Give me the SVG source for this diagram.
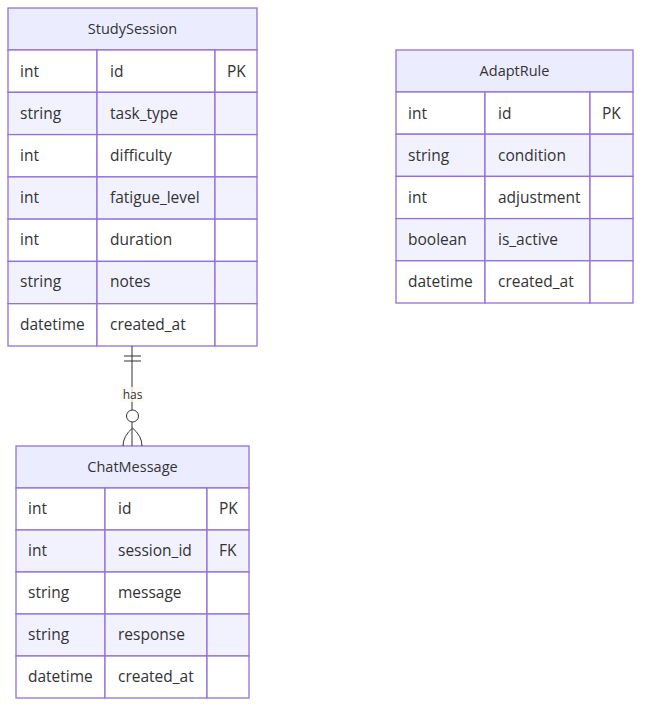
<svg xmlns="http://www.w3.org/2000/svg" width="649" height="716" viewBox="0 0 649 716">
<style>
text{font-family:"Open Sans","Liberation Sans",sans-serif;font-size:15.5px;fill:#333;}
.hd{fill:#ECECFF;stroke:#9370DB;stroke-width:1.3;}
.o{fill:#ffffff;stroke:#9370DB;stroke-width:1.3;}
.e{fill:#f2f2ff;stroke:#9370DB;stroke-width:1.3;}
.c{text-anchor:middle;font-size:14.5px;}
.rel{fill:none;stroke:#333;stroke-width:1;}
</style>
<rect width="649" height="716" fill="#fff"/>
<g id="StudySession">
<rect class="hd" x="8" y="8" width="249" height="42"/>
<text class="c" x="132.5" y="34">StudySession</text>
<rect class="o" x="8" y="50" width="89" height="42.3"/><rect class="o" x="97" y="50" width="118" height="42.3"/><rect class="o" x="215" y="50" width="42" height="42.3"/>
<rect class="e" x="8" y="92.3" width="89" height="42.3"/><rect class="e" x="97" y="92.3" width="118" height="42.3"/><rect class="e" x="215" y="92.3" width="42" height="42.3"/>
<rect class="o" x="8" y="134.6" width="89" height="42.3"/><rect class="o" x="97" y="134.6" width="118" height="42.3"/><rect class="o" x="215" y="134.6" width="42" height="42.3"/>
<rect class="e" x="8" y="176.9" width="89" height="42.3"/><rect class="e" x="97" y="176.9" width="118" height="42.3"/><rect class="e" x="215" y="176.9" width="42" height="42.3"/>
<rect class="o" x="8" y="219.1" width="89" height="42.3"/><rect class="o" x="97" y="219.1" width="118" height="42.3"/><rect class="o" x="215" y="219.1" width="42" height="42.3"/>
<rect class="e" x="8" y="261.4" width="89" height="42.3"/><rect class="e" x="97" y="261.4" width="118" height="42.3"/><rect class="e" x="215" y="261.4" width="42" height="42.3"/>
<rect class="o" x="8" y="303.7" width="89" height="42.3"/><rect class="o" x="97" y="303.7" width="118" height="42.3"/><rect class="o" x="215" y="303.7" width="42" height="42.3"/>
<text x="20" y="77">int</text><text x="110" y="77">id</text><text x="227" y="77">PK</text>
<text x="20" y="119">string</text><text x="110" y="119">task_type</text>
<text x="20" y="161">int</text><text x="110" y="161">difficulty</text>
<text x="20" y="203">int</text><text x="110" y="203">fatigue_level</text>
<text x="20" y="245">int</text><text x="110" y="245">duration</text>
<text x="20" y="287">string</text><text x="110" y="287">notes</text>
<text x="20" y="330">datetime</text><text x="110" y="330">created_at</text>
</g>
<g id="AdaptRule">
<rect class="hd" x="396" y="50" width="237" height="42"/>
<text class="c" x="514.5" y="76">AdaptRule</text>
<rect class="o" x="396" y="92" width="89" height="42.2"/><rect class="o" x="485" y="92" width="105" height="42.2"/><rect class="o" x="590" y="92" width="43" height="42.2"/>
<rect class="e" x="396" y="134.2" width="89" height="42.2"/><rect class="e" x="485" y="134.2" width="105" height="42.2"/><rect class="e" x="590" y="134.2" width="43" height="42.2"/>
<rect class="o" x="396" y="176.4" width="89" height="42.2"/><rect class="o" x="485" y="176.4" width="105" height="42.2"/><rect class="o" x="590" y="176.4" width="43" height="42.2"/>
<rect class="e" x="396" y="218.6" width="89" height="42.2"/><rect class="e" x="485" y="218.6" width="105" height="42.2"/><rect class="e" x="590" y="218.6" width="43" height="42.2"/>
<rect class="o" x="396" y="260.8" width="89" height="42.2"/><rect class="o" x="485" y="260.8" width="105" height="42.2"/><rect class="o" x="590" y="260.8" width="43" height="42.2"/>
<text x="408" y="119">int</text><text x="498" y="119">id</text><text x="602" y="119">PK</text>
<text x="408" y="161">string</text><text x="498" y="161">condition</text>
<text x="408" y="203">int</text><text x="498" y="203">adjustment</text>
<text x="408" y="245">boolean</text><text x="498" y="245">is_active</text>
<text x="408" y="287">datetime</text><text x="498" y="287">created_at</text>
</g>
<g id="ChatMessage">
<rect class="hd" x="16" y="446" width="233" height="42"/>
<text class="c" x="132.5" y="472">ChatMessage</text>
<rect class="o" x="16" y="488" width="89" height="42"/><rect class="o" x="105" y="488" width="102" height="42"/><rect class="o" x="207" y="488" width="42" height="42"/>
<rect class="e" x="16" y="530" width="89" height="42"/><rect class="e" x="105" y="530" width="102" height="42"/><rect class="e" x="207" y="530" width="42" height="42"/>
<rect class="o" x="16" y="572" width="89" height="42"/><rect class="o" x="105" y="572" width="102" height="42"/><rect class="o" x="207" y="572" width="42" height="42"/>
<rect class="e" x="16" y="614" width="89" height="42"/><rect class="e" x="105" y="614" width="102" height="42"/><rect class="e" x="207" y="614" width="42" height="42"/>
<rect class="o" x="16" y="656" width="89" height="42"/><rect class="o" x="105" y="656" width="102" height="42"/><rect class="o" x="207" y="656" width="42" height="42"/>
<text x="28" y="514">int</text><text x="118" y="514">id</text><text x="219" y="514">PK</text>
<text x="28" y="556">int</text><text x="118" y="556">session_id</text><text x="219" y="556">FK</text>
<text x="28" y="598">string</text><text x="118" y="598">message</text>
<text x="28" y="640">string</text><text x="118" y="640">response</text>
<text x="28" y="682">datetime</text><text x="118" y="682">created_at</text>
</g>
<g id="connectors">
<path class="rel" d="M132,346 L132,446"/>
<path class="rel" d="M124,356 L141,356 M124,361 L141,361"/>
<rect x="121" y="387" width="23" height="15" fill="#fafaf0" opacity="0.8"/>
<text x="132.5" y="399" style="font-size:12px;text-anchor:middle">has</text>
<circle cx="132.5" cy="416" r="6" fill="#fff" stroke="#333" stroke-width="1"/>
<path class="rel" d="M132.5,428 Q123,436 123,446 M132.5,428 Q142,436 142,446"/>
</g>
</svg>
